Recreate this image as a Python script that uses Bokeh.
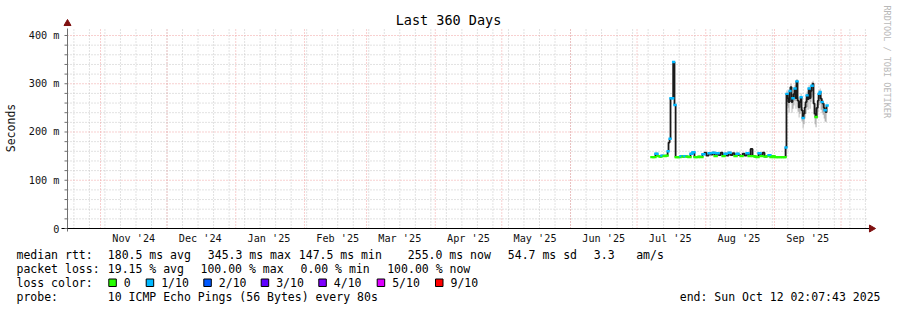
import numpy as np
import pandas as pd
from bokeh.plotting import figure
from bokeh.models import Range1d, ColumnDataSource
from bokeh.core.properties import value
from bokeh.embed import file_html
from bokeh.resources import INLINE

# ---------------- data ----------------
TITLE = "Last 360 Days"
Y_LABEL = "Seconds"
WATERMARK = "RRDTOOL / TOBI OETIKER"
GRAPH_START = "2024-10-17 02:47"
GRAPH_END = "2025-10-12 22:48"
DATA_BASE = "2025-07-01"

# days since 2025-07-01
day = [6.5, 7.4, 8.3, 9.2, 10.2, 11.0, 12.0, 12.9, 13.8, 14.2, 14.7, 15.1, 15.6, 16.0, 16.3, 16.7, 16.9, 17.4,
       17.8, 18.7, 19.6, 20.5, 21.4, 22.3, 23.2, 24.1, 25.0, 25.9,
       26.8, 27.7, 28.6, 29.5, 30.4, 31.3, 32.3, 33.2, 34.1, 35.0,
       35.9, 36.8, 37.7, 38.6, 39.5, 40.4, 41.3, 42.2, 43.1, 44.0,
       44.9, 45.8, 46.7, 47.6, 48.5, 49.4, 50.3, 51.2, 52.1, 53.0,
       53.9, 54.8, 55.7, 56.6, 57.5, 58.4, 59.3, 60.2, 61.1, 62.0,
       62.9, 63.8, 64.8, 65.7, 66.6,
       67.0, 67.4, 67.9, 68.3, 68.8, 69.2, 69.7, 70.1, 70.6, 71.0,
       71.5, 71.9, 72.4, 72.9, 73.3, 73.8, 74.2, 74.7, 75.1, 75.6,
       76.0, 76.5, 76.9, 77.4, 77.8, 78.3, 78.7, 79.2, 79.6, 80.1,
       80.5, 81.0, 81.5, 81.9, 82.4, 82.8, 83.3, 83.7, 84.2, 84.6,
       85.1, 85.5]

# median rtt in milliseconds
median_ms = [148, 148, 155, 150, 149, 151, 150, 151, 160, 178, 186, 270, 270, 270, 345, 345, 256, 148,
             148, 148, 150, 149, 150, 149, 148, 155, 158, 148,
             148, 149, 148, 154, 157, 151, 156, 153, 157, 150,
             156, 152, 157, 150, 155, 151, 157, 152, 156, 150,
             155, 152, 150, 155, 151, 156, 150, 165, 150, 149,
             148, 156, 150, 157, 149, 150, 152, 148, 150, 148,
             148, 148, 148, 148, 148,
             168, 279, 270, 262, 285, 293, 262, 270, 279, 290,
             270, 305, 265, 251, 262, 272, 245, 229, 238, 251,
             262, 276, 268, 290, 270, 285, 296, 300, 259, 238,
             231, 250, 265, 279, 283, 269, 262, 259, 250, 245,
             241, 255]

# visible loss colour of the median (tenths lost); None = hidden under smoke
loss_tenths = [0, 0, 1, 0, 0, 1, 0, 0, 1, None, 1, 1, None, 1, 1, None, 1, 0,
               0, 0, 1, 0, 1, 0, 0, 1, 1, 0,
               0, 0, 0, 1, None, None, 1, None, 1, 0,
               1, None, None, 0, 1, None, 1, None, None, 0,
               1, None, 0, None, None, 1, 0, None, 0, 0,
               0, 1, 0, None, 0, 0, 1, 0, 0, 0,
               0, 0, 0, 0, 0,
               1, 1, None, None, 1, None, None, 1, None, 1,
               None, 1, None, None, None, 1, None, 1, None, None,
               None, 1, None, 1, None, None, 1, None, None, None,
               0, None, None, 1, 1, None, 1, None, None, 1,
               None, 1]

smoke_day = [67.0, 67.4, 67.9, 68.3, 68.8, 69.2, 69.7, 70.1, 70.6, 71.0,
             71.5, 71.9, 72.4, 72.9, 73.3, 73.8, 74.2, 74.7, 75.1, 75.6,
             76.0, 76.5, 76.9, 77.4, 77.8, 78.3, 78.7, 79.2, 79.6, 80.1,
             80.5, 81.0, 81.5, 81.9, 82.4, 82.8, 83.3, 83.7, 84.2, 84.6,
             85.1, 85.5]
smoke_lo = [150, 255, 250, 240, 262, 268, 240, 248, 255, 265,
            248, 275, 242, 230, 238, 250, 222, 208, 216, 228,
            238, 252, 246, 266, 248, 262, 272, 276, 236, 216,
            210, 228, 242, 256, 260, 246, 240, 236, 228, 222,
            220, 234]
smoke_hi = [172, 286, 278, 270, 292, 300, 270, 278, 286, 297,
            278, 310, 272, 258, 270, 280, 252, 236, 245, 258,
            270, 284, 276, 297, 278, 292, 303, 306, 266, 245,
            238, 258, 272, 286, 290, 276, 270, 266, 257, 252,
            248, 262]

y_ticks = [0, 100, 200, 300, 400]
y_tick_labels = ["0", "100 m", "200 m", "300 m", "400 m"]
month_labels = ["Nov '24", "Dec '24", "Jan '25", "Feb '25", "Mar '25", "Apr '25",
                "May '25", "Jun '25", "Jul '25", "Aug '25", "Sep '25"]

loss_colors = {0: "#26ff00", 1: "#00b8ff", 2: "#0059ff", 3: "#5e00ff", 4: "#7e00ff", 5: "#dd00ff", 9: "#ff0000"}
legend_loss = ["0", "1/10", "2/10", "3/10", "4/10", "5/10", "9/10"]
legend_loss_keys = [0, 1, 2, 3, 4, 5, 9]

rtt_stats = ["180.5 ms avg", "345.3 ms max", "147.5 ms min", "255.0 ms now", "54.7 ms sd", "3.3", "am/s"]
loss_stats = ["19.15 % avg", "100.00 % max", "0.00 % min", "100.00 % now"]
probe_text = "10 ICMP Echo Pings (56 Bytes) every 80s"
end_text = "end: Sun Oct 12 02:07:43 2025"

# ---------------- geometry ----------------
W, H = 897, 310
FL, FR, FT, FB = 67, 867, 28, 228          # plot frame in canvas pixels
EPOCH = pd.Timestamp("1970-01-01")
MS_DAY = 86400000.0


def ms(ts):
    return (pd.Timestamp(ts) - EPOCH) / pd.Timedelta(milliseconds=1)


x0, x1 = ms(GRAPH_START), ms(GRAPH_END)
Y_TOP = 414.5
px_x = (FR - FL) / (x1 - x0)     # pixels per ms
px_y = (FB - FT) / Y_TOP         # pixels per ms of rtt


def dx(X):
    return x0 + (X - FL) / px_x


def dy(Y):
    return (FB - Y) / px_y


base = ms(DATA_BASE)
t = np.array([base + d * MS_DAY for d in day])
v = np.array(median_ms, dtype=float)
t_next = np.append(t[1:], t[-1] + 0.45 * MS_DAY)

MONO = "DejaVu Sans Mono"

p = figure(width=W, height=H, x_range=Range1d(dx(0), dx(W)), y_range=Range1d(dy(H), dy(0)),
           output_backend="svg", toolbar_location=None, min_border=0,
           x_axis_location=None, y_axis_location=None,
           background_fill_color="white", border_fill_color="white", outline_line_color=None)
p.grid.visible = False

# ---------------- grid ----------------
weeks = [ms(d) for d in pd.date_range("2024-10-20", "2025-10-12", freq="7D")]
months = [ms(d) for d in pd.date_range("2024-11-01", "2025-10-01", freq="MS")]
month_mid = [ms(pd.Timestamp(d) + pd.Timedelta(days=15))
             for d in pd.date_range("2024-11-01", "2025-09-01", freq="MS")]
minor_y = [y for y in range(20, 401, 20) if y % 100 != 0]

MINOR_C = "#c4c4c4"
MAJOR_C = "#f0a0a0"
wk = [w for w in weeks if x0 < w <= x1]
p.segment(x0=wk, y0=[0] * len(wk), x1=wk, y1=[Y_TOP] * len(wk),
          line_color=MINOR_C, line_dash="1 2", line_width=1)
p.segment(x0=[x0] * len(minor_y), y0=minor_y, x1=[x1] * len(minor_y), y1=minor_y,
          line_color=MINOR_C, line_dash="1 2", line_width=1)
p.segment(x0=months, y0=[0] * len(months), x1=months, y1=[Y_TOP] * len(months),
          line_color=MAJOR_C, line_dash="1 2", line_width=1)
p.segment(x0=[x0] * 4, y0=y_ticks[1:], x1=[x1] * 4, y1=y_ticks[1:],
          line_color=MAJOR_C, line_dash="1 2", line_width=1)

# ---------------- data ----------------
p.varea_step(x=[base + d * MS_DAY for d in smoke_day], y1=smoke_lo, y2=smoke_hi,
             step_mode="after", fill_color="#b4b4b4", fill_alpha=1.0)
p.step(x=t, y=v, mode="after", line_color="#1a1a1a", line_width=1.8)

idx = [i for i, l in enumerate(loss_tenths) if l is not None]
seg = ColumnDataSource(dict(
    x0=[t[i] for i in idx], x1=[t_next[i] for i in idx], y=[v[i] for i in idx],
    c=[loss_colors[loss_tenths[i]] for i in idx]))
p.segment(x0="x0", y0="y", x1="x1", y1="y", line_color="c", line_width=2.4,
          line_cap="square", source=seg)

# ---------------- axes ----------------
AX_C = "#707070"
p.segment(x0=[x0], y0=[dy(FB + 3)], x1=[x0], y1=[Y_TOP], line_color=AX_C, line_width=1)
p.segment(x0=[dx(FL - 6)], y0=[0], x1=[x1 + 3 / px_x], y1=[0], line_color="black", line_width=1)
all_y = sorted(minor_y + y_ticks)
p.segment(x0=[dx(FL - 3)] * len(all_y), y0=all_y, x1=[x0] * len(all_y), y1=all_y,
          line_color=AX_C, line_width=1)
p.scatter(x=[x1 + 4 / px_x], y=[0], marker="triangle", size=7, angle=-np.pi / 2,
          fill_color="#7f1010", line_color="#7f1010")
p.scatter(x=[x0], y=[Y_TOP + 5 / px_y], marker="triangle", size=7,
          fill_color="#7f1010", line_color="#7f1010")

TICK_FS = value("10.2px")
p.text(x=[dx(FL - 8)] * len(y_ticks), y=y_ticks, text=y_tick_labels, text_font=value(MONO),
       text_font_size=TICK_FS, text_align="right", text_baseline="middle", text_color="#111111")
p.text(x=month_mid, y=[dy(FB + 9.5)] * len(month_mid), text=month_labels, text_font=value(MONO),
       text_font_size=TICK_FS, text_align="center", text_baseline="middle", text_color="#111111")
p.text(x=[dx(10)], y=[dy(127.5)], text=[Y_LABEL], angle=np.pi / 2, text_font=value(MONO),
       text_font_size=value("11.5px"), text_align="center", text_baseline="middle", text_color="#111111")

# title and watermark
p.text(x=[dx(448)], y=[dy(19)], text=[TITLE], text_font=value(MONO), text_font_size=value("13.5px"),
       text_align="center", text_baseline="middle", text_color="#000000")
p.text(x=[dx(886)], y=[dy(5)], text=[WATERMARK], angle=-np.pi / 2, text_font=value(MONO),
       text_font_size=value("8.5px"), text_align="left", text_baseline="middle", text_color="#b8b8b8")

# ---------------- legend block ----------------
rows_Y = [254.3, 268.3, 282.3, 296.3]
tx, ty, tt = [], [], []


def put(X, Y, s):
    tx.append(dx(X)); ty.append(dy(Y)); tt.append(s)


put(16, rows_Y[0], "median rtt:")
for X, s in zip([107.3, 207.3, 298.3, 407.3, 507.3, 593.3, 635.7], rtt_stats):
    put(X, rows_Y[0], s)
put(16, rows_Y[1], "packet loss:")
for X, s in zip([107.3, 200.0, 300.0, 386.7], loss_stats):
    put(X, rows_Y[1], s)
put(16, rows_Y[2], "loss color:")
box_left = [108.3, 145.7, 203.3, 260.7, 318.3, 376.7, 435.0]
for bx, s in zip(box_left, legend_loss):
    put(bx + 15, rows_Y[2], s)
put(16, rows_Y[3], "probe:")
put(107.3, rows_Y[3], probe_text)

LEG_FS = value("11.5px")
p.text(x=tx, y=ty, text=tt, text_font=value(MONO), text_font_size=LEG_FS,
       text_baseline="middle", text_align="left", text_color="#000000")
p.text(x=[dx(880)], y=[dy(rows_Y[3])], text=[end_text], text_font=value(MONO), text_font_size=LEG_FS,
       text_baseline="middle", text_align="right", text_color="#000000")
p.quad(left=[dx(b) for b in box_left], right=[dx(b + 7.5) for b in box_left],
       top=[dy(278.5)] * len(box_left), bottom=[dy(286)] * len(box_left),
       fill_color=[loss_colors[k] for k in legend_loss_keys], line_color="black", line_width=1)

open("out.html", "w").write(file_html(p, INLINE))
